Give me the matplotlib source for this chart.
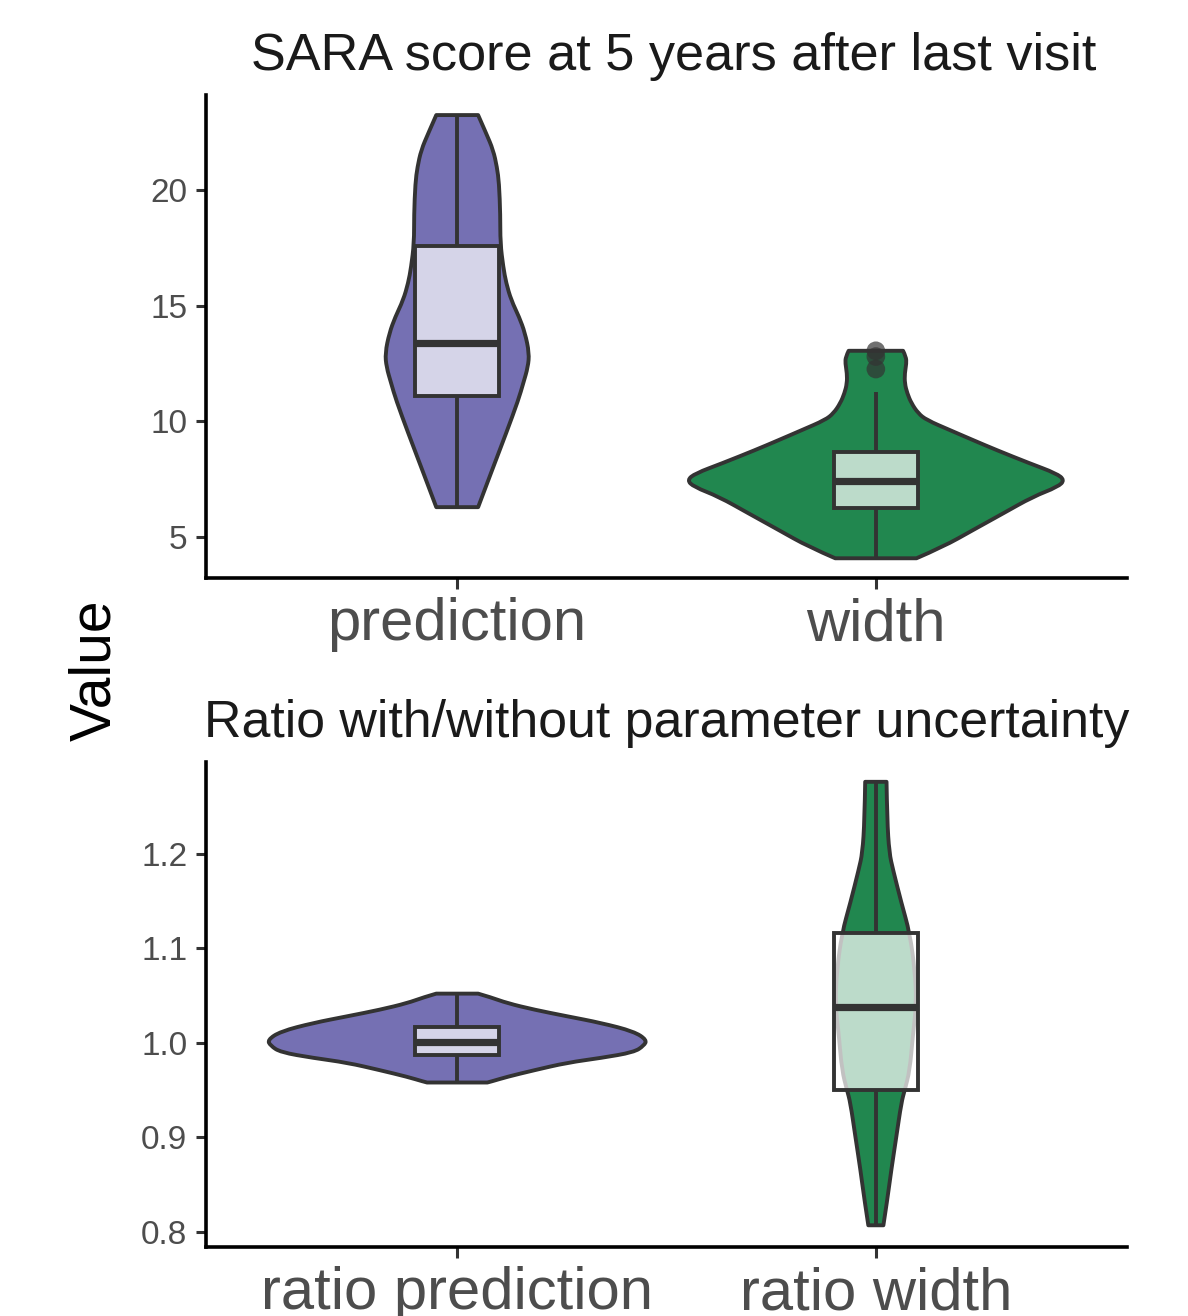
import matplotlib
matplotlib.use('Agg')
import matplotlib.pyplot as plt
from matplotlib.patches import Rectangle, PathPatch
from matplotlib.path import Path
import numpy as np

plt.rcParams['font.family'] = ['Liberation Sans', 'DejaVu Sans']

# ---------------- data ----------------
top_categories = ['prediction', 'width']
bottom_categories = ['ratio prediction', 'ratio width']
top_title = 'SARA score at 5 years after last visit'
bottom_title = 'Ratio with/without parameter uncertainty'
y_label = 'Value'

top_yticks = [5, 10, 15, 20]
bottom_yticks = [0.8, 0.9, 1.0, 1.1, 1.2]

# violin outlines: value levels and density half-widths (x units)
pred_levels = [23.24, 22.46, 21.73, 20.99, 20.30, 18.92, 17.71, 16.67, 15.98, 15.24,
               14.51, 13.82, 12.95, 12.35, 11.66, 10.92, 9.49, 8.02, 6.29]
pred_hw = [0.050, 0.069, 0.086, 0.095, 0.100, 0.103, 0.103, 0.110, 0.117, 0.129,
           0.148, 0.162, 0.172, 0.169, 0.158, 0.146, 0.117, 0.086, 0.050]

width_levels = [13.05, 12.79, 12.51, 12.08, 11.64, 11.21, 10.78, 10.35, 10.06, 9.62, 9.19,
                8.76, 8.18, 7.75, 7.46, 7.17, 6.74, 6.02, 5.30, 4.58, 4.08]
width_hw = [0.065, 0.072, 0.073, 0.069, 0.069, 0.075, 0.085, 0.101, 0.121, 0.177, 0.232,
            0.288, 0.368, 0.431, 0.451, 0.435, 0.375, 0.304, 0.232, 0.161, 0.097]

rp_levels = [1.052, 1.048, 1.042, 1.035, 1.028, 1.021, 1.012, 1.003, 0.997, 0.990,
             0.984, 0.979, 0.971, 0.964, 0.959, 0.958]
rp_hw = [0.050, 0.081, 0.119, 0.184, 0.263, 0.344, 0.422, 0.453, 0.446, 0.422,
         0.344, 0.263, 0.184, 0.119, 0.081, 0.072]

rw_levels = [1.276, 1.236, 1.201, 1.183, 1.148, 1.116, 1.077, 1.042, 1.006, 0.971,
             0.950, 0.937, 0.901, 0.866, 0.833, 0.807]
rw_hw = [0.0255, 0.027, 0.032, 0.041, 0.061, 0.081, 0.093, 0.097, 0.088, 0.081,
         0.069, 0.061, 0.049, 0.037, 0.027, 0.018]

# box stats: (lower whisker, q1, median, q3, upper whisker)
pred_box = (6.29, 11.1, 13.4, 17.6, 23.24)
width_box = (4.08, 6.25, 7.42, 8.67, 11.27)
width_outliers = [12.26, 12.80, 13.05]
rp_box = (0.958, 0.987, 1.001, 1.017, 1.052)
rw_box = (0.807, 0.950, 1.038, 1.116, 1.276)

# ---------------- style ----------------
PURPLE = '#7570B3'
GREEN = '#21874F'
EDGE = '#333333'
OUT_LW = 2.8
MED_LW = 5.2
BOX_W = 0.2

fig = plt.figure(figsize=(11.88, 13.16), dpi=100)
ax1 = fig.add_axes([0.1734, 0.5608, 0.7753, 0.3670])
ax2 = fig.add_axes([0.1734, 0.0524, 0.7753, 0.3686])


def smooth_side(pts, verts, codes, first):
    # quadratic curve segments through midpoints of the outline points
    n = len(pts)
    verts.append(pts[0]); codes.append(Path.MOVETO if first else Path.LINETO)
    for i in range(1, n - 1):
        mid = ((pts[i][0] + pts[i + 1][0]) / 2, (pts[i][1] + pts[i + 1][1]) / 2)
        if i == n - 2:
            mid = pts[n - 1]
        verts.extend([pts[i], mid]); codes.extend([Path.CURVE3, Path.CURVE3])


def draw_violin(ax, pos, levels, hw, color):
    right = [(pos + wi, yi) for wi, yi in zip(hw, levels)]
    left = [(pos - wi, yi) for wi, yi in zip(hw, levels)][::-1]
    verts, codes = [], []
    smooth_side(right, verts, codes, True)
    smooth_side(left, verts, codes, False)
    verts.append(right[0]); codes.append(Path.CLOSEPOLY)
    patch = PathPatch(Path(verts, codes), facecolor=color, edgecolor=EDGE,
                      linewidth=OUT_LW, joinstyle='round', zorder=2)
    ax.add_patch(patch)


def draw_box(ax, pos, stats, outliers=None):
    lo, q1, med, q3, hi = stats
    ax.vlines(pos, lo, q1, color=EDGE, linewidth=OUT_LW, zorder=3)
    ax.vlines(pos, q3, hi, color=EDGE, linewidth=OUT_LW, zorder=3)
    ax.add_patch(Rectangle((pos - BOX_W / 2, q1), BOX_W, q3 - q1,
                           facecolor=(1, 1, 1, 0.7), edgecolor=EDGE,
                           linewidth=OUT_LW, zorder=4))
    ax.hlines(med, pos - BOX_W / 2, pos + BOX_W / 2, color=EDGE,
              linewidth=MED_LW, zorder=5)
    if outliers:
        ax.scatter([pos] * len(outliers), outliers, s=180, color=EDGE,
                   alpha=0.7, edgecolors='none', zorder=6)


draw_violin(ax1, 1, pred_levels, pred_hw, PURPLE)
draw_box(ax1, 1, pred_box)
draw_violin(ax1, 2, width_levels, width_hw, GREEN)
draw_box(ax1, 2, width_box, width_outliers)

draw_violin(ax2, 1, rp_levels, rp_hw, PURPLE)
draw_box(ax2, 1, rp_box)
draw_violin(ax2, 2, rw_levels, rw_hw, GREEN)
draw_box(ax2, 2, rw_box)

for ax, cats in [(ax1, top_categories), (ax2, bottom_categories)]:
    ax.set_xlim(0.4, 2.6)
    ax.set_xticks(range(1, len(cats) + 1))
    ax.set_xticklabels(cats)
    ax.tick_params(axis='x', labelsize=43, length=8, width=2.2,
                   color=EDGE, labelcolor='#4D4D4D', pad=6)
    ax.tick_params(axis='y', labelsize=24, length=7.5, width=2.2,
                   color=EDGE, labelcolor='#4D4D4D', pad=6)
    for s in ['top', 'right']:
        ax.spines[s].set_visible(False)
    for s in ['left', 'bottom']:
        ax.spines[s].set_linewidth(2.6)
        ax.spines[s].set_color('black')

t1 = ax1.set_title(top_title, fontsize=37.6, pad=18, color='#1A1A1A')
t1.set_x(0.508)
ax2.set_title(bottom_title, fontsize=37.4, pad=18, color='#1A1A1A')

ax1.set_ylim(3.228, 24.107)
ax1.set_yticks(top_yticks)
ax1.set_yticklabels([str(v) for v in top_yticks])

ax2.set_ylim(0.784, 1.297)
ax2.set_yticks(bottom_yticks)
ax2.set_yticklabels([f'{v:.1f}' for v in bottom_yticks])

fig.text(0.080, 0.491, y_label, rotation=90, fontsize=41,
         ha='center', va='center', color='black')

fig.savefig('out.png', dpi=100)
